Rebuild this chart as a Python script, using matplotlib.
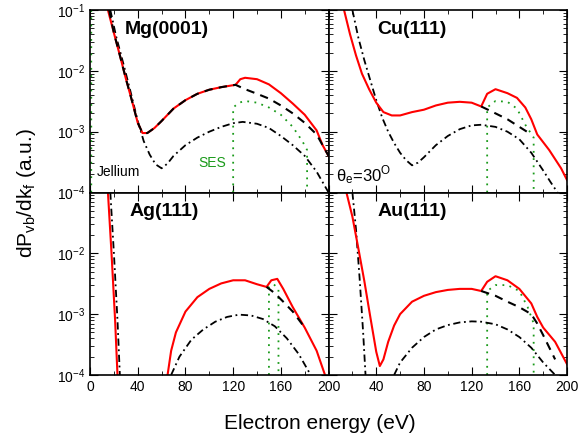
import numpy as np
import matplotlib.pyplot as plt
from matplotlib.ticker import MultipleLocator, LogLocator, NullFormatter, FixedLocator

plt.rcParams['font.family'] = ['Liberation Sans', 'DejaVu Sans']
plt.rcParams['mathtext.fontset'] = 'custom'
plt.rcParams['mathtext.rm'] = 'Liberation Sans'

# ---------- data ----------
# Mg(0001)
mg_red_e = [15, 20, 25, 30, 35, 40, 44, 48, 54, 60, 70, 80, 90, 100, 110, 122, 126, 130, 140, 150, 160, 170, 180, 190, 195, 200]
mg_red_v = [1e-1, 4.2e-2, 1.8e-2, 7.5e-3, 3.3e-3, 1.4e-3, 9.5e-4, 9.5e-4, 1.15e-3, 1.5e-3, 2.4e-3, 3.3e-3, 4.2e-3, 4.9e-3, 5.4e-3, 5.9e-3, 7.3e-3, 7.7e-3, 7.3e-3, 6e-3, 4.3e-3, 2.9e-3, 1.9e-3, 1.05e-3, 6e-4, 4e-4]
mg_dash_e = [16, 20, 25, 30, 35, 40, 44, 48, 54, 60, 70, 80, 90, 100, 110, 122, 130, 140, 150, 160, 170, 180, 190, 200]
mg_dash_v = [1e-1, 4.2e-2, 1.8e-2, 7.5e-3, 3.3e-3, 1.4e-3, 9.5e-4, 9.5e-4, 1.15e-3, 1.5e-3, 2.4e-3, 3.3e-3, 4.2e-3, 4.9e-3, 5.4e-3, 5.9e-3, 5e-3, 4.2e-3, 3.5e-3, 2.7e-3, 2e-3, 1.4e-3, 9e-4, 4e-4]
mg_jel_e = [17, 22, 28, 34, 40, 45, 50, 55, 60, 65, 70, 80, 90, 100, 110, 120, 128, 140, 150, 160, 170, 180, 190, 200]
mg_jel_v = [1e-1, 3.6e-2, 1.3e-2, 4.5e-3, 1.5e-3, 7e-4, 4.2e-4, 2.9e-4, 2.5e-4, 3e-4, 4e-4, 6e-4, 8e-4, 1e-3, 1.2e-3, 1.38e-3, 1.45e-3, 1.35e-3, 1.15e-3, 8.5e-4, 6e-4, 4e-4, 2.2e-4, 1e-4]
mg_ses_e = [1, 1, None, 120, 120, 125, 130, 140, 150, 160, 170, 178, 182, 182]
mg_ses_v = [1e-4, 1e-1, None, 1e-4, 2.5e-3, 3e-3, 3.2e-3, 3e-3, 2.5e-3, 1.9e-3, 1.2e-3, 7e-4, 5e-4, 1e-4]

# Cu(111)
cu_red_e = [13, 18, 23, 28, 34, 40, 46, 53, 60, 70, 80, 90, 100, 110, 120, 128, 133, 140, 150, 158, 165, 170, 175, 185, 195, 200]
cu_red_v = [1e-1, 4e-2, 1.8e-2, 9e-3, 5e-3, 3e-3, 2.1e-3, 1.85e-3, 1.85e-3, 2.1e-3, 2.3e-3, 2.7e-3, 3e-3, 3.1e-3, 3e-3, 2.6e-3, 4.2e-3, 5e-3, 4.3e-3, 3.6e-3, 2.5e-3, 1.6e-3, 9e-4, 5e-4, 2.5e-4, 1.6e-4]
cu_dash_e = [128, 140, 150, 160, 170]
cu_dash_v = [2.6e-3, 2e-3, 1.6e-3, 1.2e-3, 9e-4]
cu_jel_e = [20, 25, 30, 35, 40, 45, 50, 55, 60, 65, 70, 75, 80, 90, 100, 110, 120, 128, 140, 150, 160, 170, 180, 186, 192]
cu_jel_v = [1e-1, 3.5e-2, 1.5e-2, 7e-3, 3.3e-3, 1.7e-3, 1e-3, 6.5e-4, 4.5e-4, 3.4e-4, 2.8e-4, 3.1e-4, 3.8e-4, 6e-4, 8.5e-4, 1.1e-3, 1.27e-3, 1.3e-3, 1.2e-3, 1e-3, 7.5e-4, 4.5e-4, 2.3e-4, 1.5e-4, 1e-4]
cu_ses_e = [133, 133, 140, 150, 158, 165, 172, 172]
cu_ses_v = [1e-4, 2.5e-3, 3.2e-3, 3.1e-3, 2.4e-3, 1.3e-3, 8e-4, 1e-4]

# Ag(111)
ag_red_e = [15, 18, 21, 23, None, 65, 68, 72, 80, 90, 100, 110, 120, 130, 140, 148, 152, 157, 162, 170, 180, 190, 197]
ag_red_v = [1e-1, 1e-2, 8e-4, 1e-4, None, 1e-4, 2.5e-4, 5e-4, 1.1e-3, 1.9e-3, 2.6e-3, 3.2e-3, 3.6e-3, 3.6e-3, 3.1e-3, 2.8e-3, 3.6e-3, 3.8e-3, 2.6e-3, 1.3e-3, 6e-4, 2.5e-4, 1e-4]
ag_dash_e = [148, 155, 162, 170, 180]
ag_dash_v = [2.8e-3, 2.2e-3, 1.6e-3, 1.1e-3, 6e-4]
ag_jel_e = [17, 20, 23, 25, None, 68, 75, 85, 95, 105, 115, 125, 135, 145, 155, 165, 175, 185]
ag_jel_v = [1e-1, 1e-2, 8e-4, 1e-4, None, 1e-4, 2e-4, 3.8e-4, 5.6e-4, 7.5e-4, 9e-4, 9.8e-4, 9.5e-4, 8.3e-4, 6.3e-4, 4e-4, 2.2e-4, 1e-4]
ag_ses_e = [150, 150, 154, 158, 158]
ag_ses_v = [1e-4, 2.8e-3, 3.1e-3, 2.6e-3, 1e-4]

# Au(111)
au_red_e = [15, 20, 25, 30, 35, 40, 43, 46, 50, 55, 60, 70, 80, 90, 100, 110, 120, 128, 133, 140, 150, 160, 170, 175, 180, 190, 200]
au_red_v = [1e-1, 4e-2, 1.2e-2, 3.5e-3, 9e-4, 2.4e-4, 1.4e-4, 1.8e-4, 3.5e-4, 6.5e-4, 1e-3, 1.6e-3, 2e-3, 2.3e-3, 2.5e-3, 2.6e-3, 2.6e-3, 2.4e-3, 3.4e-3, 4.2e-3, 3.6e-3, 2.6e-3, 1.5e-3, 9e-4, 6e-4, 3.5e-4, 1.5e-4]
au_dash_e = [128, 140, 150, 160, 170, 175, 180, 190]
au_dash_v = [2.4e-3, 2e-3, 1.6e-3, 1.3e-3, 1e-3, 7e-4, 4.5e-4, 1.8e-4]
au_jel_e = [20, 23, 26, 29, 31, None, 55, 60, 70, 80, 90, 100, 110, 120, 128, 140, 150, 160, 170, 180, 190]
au_jel_v = [1e-1, 2.5e-2, 4e-3, 5e-4, 1e-4, None, 1e-4, 1.6e-4, 2.8e-4, 4.2e-4, 5.6e-4, 6.6e-4, 7.3e-4, 7.6e-4, 7.5e-4, 6.8e-4, 5.6e-4, 4.2e-4, 2.8e-4, 1.6e-4, 1e-4]
au_ses_e = [133, 133, 140, 150, 160, 167, 172, 172]
au_ses_v = [1e-4, 2.4e-3, 3e-3, 3e-3, 2.4e-3, 1.3e-3, 7e-4, 1e-4]

panels = [
    ("Mg(0001)", 0.32, mg_red_e, mg_red_v, mg_dash_e, mg_dash_v, mg_jel_e, mg_jel_v, mg_ses_e, mg_ses_v),
    ("Cu(111)", 0.35, cu_red_e, cu_red_v, cu_dash_e, cu_dash_v, cu_jel_e, cu_jel_v, cu_ses_e, cu_ses_v),
    ("Ag(111)", 0.31, ag_red_e, ag_red_v, ag_dash_e, ag_dash_v, ag_jel_e, ag_jel_v, ag_ses_e, ag_ses_v),
    ("Au(111)", 0.35, au_red_e, au_red_v, au_dash_e, au_dash_v, au_jel_e, au_jel_v, au_ses_e, au_ses_v),
]


def arr(a):
    return np.array([np.nan if v is None else v for v in a], dtype=float)


fig, axes = plt.subplots(2, 2, figsize=(5.81, 4.38), dpi=100)
fig.subplots_adjust(left=0.155, right=0.976, top=0.977, bottom=0.144, wspace=0, hspace=0)

for i, (ax, (name, tx, re, rv, de, dv, je, jv, se, sv)) in enumerate(zip(axes.flat, panels)):
    ax.plot(arr(se), arr(sv), color='#1a9a1a', ls=(0, (1, 3)), lw=1.3)
    ax.plot(arr(je), arr(jv), color='black', ls=(0, (4, 2, 1, 2)), lw=1.3)
    ax.plot(arr(re), arr(rv), color='red', lw=1.5)
    ax.plot(arr(de), arr(dv), color='black', ls=(0, (4, 3)), lw=1.5)
    ax.set_yscale('log')
    ax.set_xlim(0, 200)
    ax.set_ylim(1e-4, 1e-1)
    ax.xaxis.set_major_locator(MultipleLocator(40))
    ax.xaxis.set_minor_locator(MultipleLocator(20))
    ax.yaxis.set_major_locator(LogLocator(base=10, numticks=10))
    ax.yaxis.set_minor_locator(LogLocator(base=10, subs=np.arange(2, 10), numticks=10))
    ax.yaxis.set_minor_formatter(NullFormatter())
    ax.tick_params(which='both', direction='in', top=True, right=True, labelsize=10)
    ax.tick_params(which='major', length=6)
    ax.tick_params(which='minor', length=3)
    ax.text(tx, 0.87, name, transform=ax.transAxes, ha='center', fontsize=14, fontweight='bold')
    for s in ax.spines.values():
        s.set_linewidth(1.2)
    if i < 2:
        ax.tick_params(labelbottom=False)
    if i % 2 == 1:
        ax.tick_params(labelleft=False)

axes[0, 0].text(6, 1.9e-4, 'Jellium', fontsize=10)
axes[0, 0].text(91, 2.6e-4, 'SES', fontsize=10, color='#1a9a1a')
axes[0, 1].text(6, 1.5e-4, r'$\mathrm{\theta_e}$=30$^{\rm O}$', fontsize=12)

# drop overlapping edge labels
axes[1, 0].yaxis.set_major_locator(FixedLocator([1e-4, 1e-3, 1e-2]))
axes[1, 1].xaxis.set_major_locator(FixedLocator([40, 80, 120, 160, 200]))

fig.text(0.55, 0.02, 'Electron energy (eV)', ha='center', fontsize=15)
fig.text(0.025, 0.56, r'dP$_{\rm vb}$/dk$_{\rm f}$ (a.u.)', va='center', rotation=90, fontsize=15)

fig.savefig('out.png', dpi=100)
